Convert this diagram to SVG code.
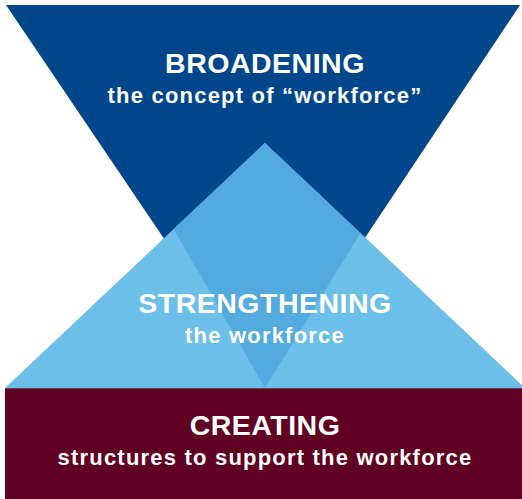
<svg xmlns="http://www.w3.org/2000/svg" width="522" height="499" viewBox="0 0 522 499">
  <style>
    .t { font-family: "Liberation Sans", Arial, sans-serif; font-weight: bold; fill: #ffffff; text-anchor: middle; }
    .h { font-size: 28.5px; letter-spacing: 0.5px; }
    .s { font-size: 22px; letter-spacing: 1.2px; }
  </style>
  <defs>
    <clipPath id="cl"><rect x="0" y="0" width="522" height="499"/></clipPath>
  </defs>
  <rect width="522" height="499" fill="#ffffff"/>
  <g clip-path="url(#cl)">
    <g id="broadening">
      <polygon points="6,5 520,5 265,388" fill="#00468b"/>
    </g>
    <g id="strengthening">
      <polygon points="265,143 5,388 525,388" fill="#6cbfe9"/>
      <polygon points="265,143 173.7,229 265,388 360.3,233.3" fill="#52aade"/>
    </g>
    <g id="creating">
      <rect x="5" y="388" width="517" height="111" fill="#600023"/>
      <line x1="5" y1="388.5" x2="522" y2="388.5" stroke="#6a3a5c" stroke-width="1"/>
    </g>
  </g>
  <g id="labels">
    <text class="t h" x="265" y="73">BROADENING</text>
    <text class="t s" x="265" y="103">the concept of “workforce”</text>
    <text class="t h" x="265" y="313">STRENGTHENING</text>
    <text class="t s" x="265" y="343">the workforce</text>
    <text class="t h" x="265" y="435">CREATING</text>
    <text class="t s" x="265" y="465">structures to support the workforce</text>
  </g>
</svg>
